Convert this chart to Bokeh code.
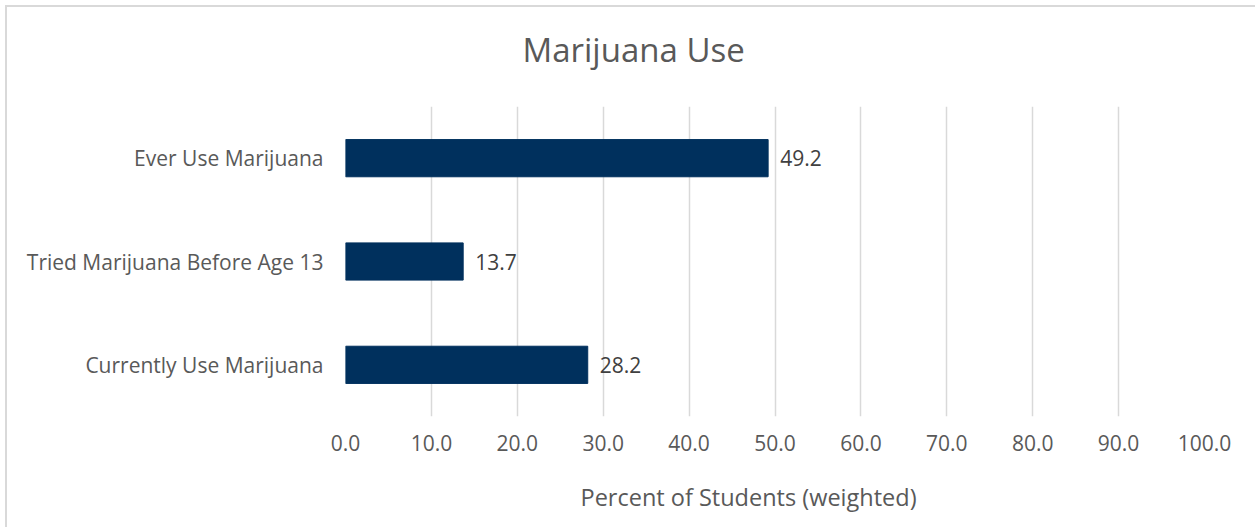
from bokeh.plotting import figure
from bokeh.models import ColumnDataSource, FactorRange, Range1d, FixedTicker, CustomJSTickFormatter, Title
from bokeh.core.properties import value
from bokeh.embed import file_html
from bokeh.resources import INLINE

categories = ["Ever Use Marijuana", "Tried Marijuana Before Age 13", "Currently Use Marijuana"]
values = [49.2, 13.7, 28.2]
labels = ["49.2", "13.7", "28.2"]
ticks = [0, 10, 20, 30, 40, 50, 60, 70, 80, 90, 100]
title_text = "Marijuana Use"
x_title = "Percent of Students (weighted)"

FONT = "Open Sans"
TXT = "#595959"

src = ColumnDataSource(dict(cat=categories, val=values, lab=labels))

W, H = 1250, 522
p = figure(width=W, height=H, output_backend="svg", toolbar_location=None,
           y_range=FactorRange(factors=list(reversed(categories)), range_padding=0),
           x_range=Range1d(0, 100),
           min_border_left=338, min_border_right=W - 1193,
           min_border_top=99, min_border_bottom=H - 405,
           margin=(5, 0, 0, 5))
p.title = None
p.styles = {"border": "2px solid #D9D9D9", "box-sizing": "content-box"}
p.outline_line_color = None

# spacer between frame and title, then the title itself
p.add_layout(Title(text=" ", text_font_size="1px", standoff=32), "above")
p.add_layout(Title(text=title_text, align="left", offset=177, standoff=0,
                   text_font=FONT, text_font_size="33px", text_font_style="normal",
                   text_color=TXT), "above")

p.hbar(y="cat", right="val", left=0, height=0.36, source=src, color="#00305D")
p.text(x="val", y="cat", text="lab", source=src, x_offset=12,
       text_font=value(FONT), text_font_size="21px", text_color="#404040",
       text_align="left", text_baseline="middle")

p.xgrid.grid_line_color = "#D9D9D9"
p.xgrid.grid_line_width = 1.5
p.ygrid.grid_line_color = None
p.xaxis.ticker = FixedTicker(ticks=ticks)
p.xaxis.formatter = CustomJSTickFormatter(code="return tick.toFixed(1);")
p.xaxis.axis_line_color = None
p.xaxis.major_tick_line_color = None
p.xaxis.minor_tick_line_color = None
p.xaxis.major_tick_out = 0
p.xaxis.major_label_text_font = FONT
p.xaxis.major_label_text_font_size = "21px"
p.xaxis.major_label_text_color = TXT
p.xaxis.major_label_standoff = 18

# spacer between tick labels and axis title, then the axis title
p.add_layout(Title(text=" ", text_font_size="1px", standoff=22), "below")
p.add_layout(Title(text=x_title, align="left", offset=235, standoff=0,
                   text_font=FONT, text_font_size="23.5px", text_font_style="normal",
                   text_color=TXT), "below")

p.yaxis.axis_line_color = None
p.yaxis.major_tick_line_color = None
p.yaxis.minor_tick_line_color = None
p.yaxis.major_tick_out = 0
p.yaxis.major_label_text_font = FONT
p.yaxis.major_label_text_font_size = "21px"
p.yaxis.major_label_text_color = TXT
p.yaxis.major_label_standoff = 22

open("out.html", "w").write(file_html(p, INLINE))
